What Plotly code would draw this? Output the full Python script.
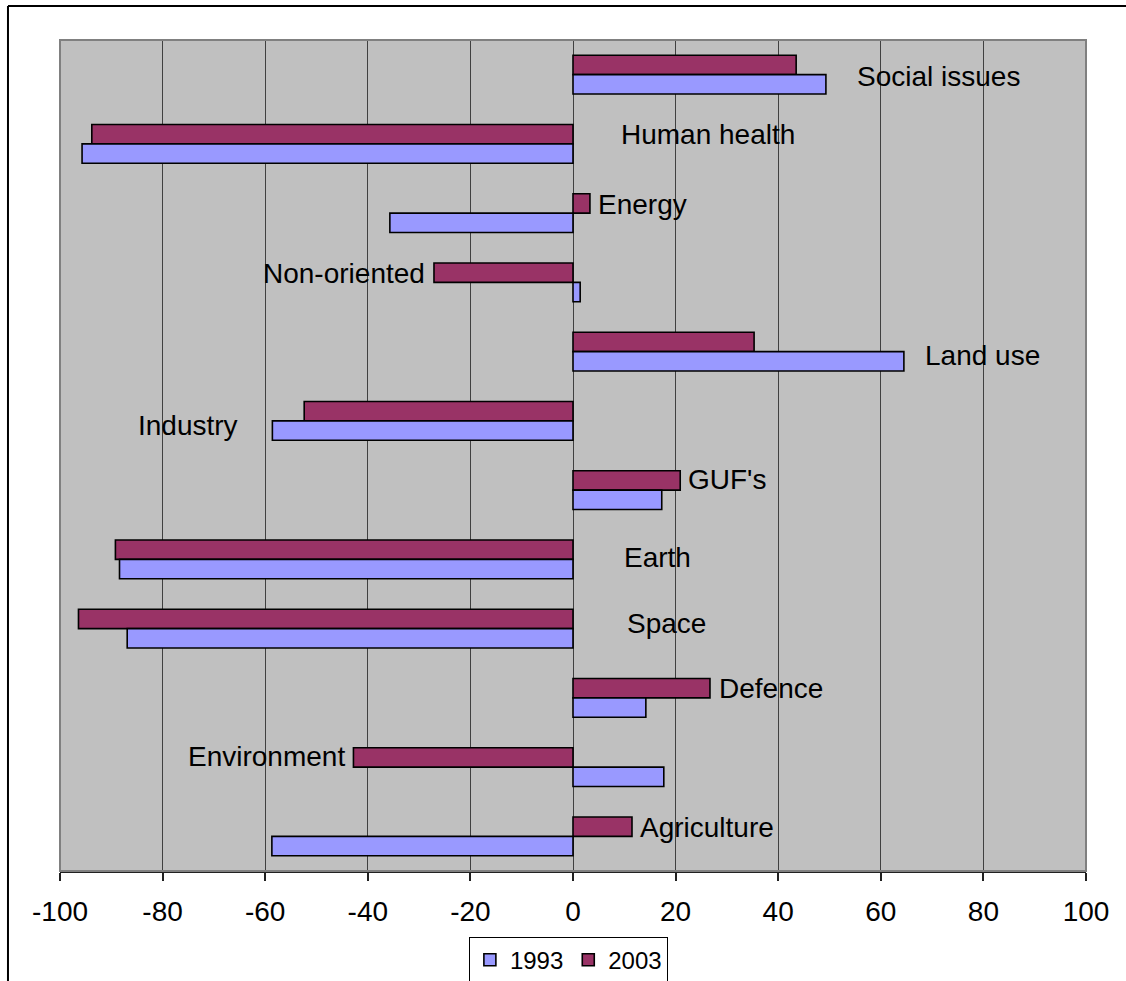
import plotly.graph_objects as go

# Research field categories, top to bottom
categories = ["Social issues", "Human health", "Energy", "Non-oriented", "Land use",
              "Industry", "GUF's", "Earth", "Space", "Defence", "Environment", "Agriculture"]

# Percentage change values per year
values_1993 = [49.3, -95.7, -35.7, 1.4, 64.5, -58.6, 17.3, -88.4, -86.9, 14.2, 17.7, -58.7]
values_2003 = [43.5, -93.8, 3.3, -27.1, 35.3, -52.4, 20.9, -89.2, -96.4, 26.7, -42.8, 11.5]

x_ticks = [-100, -80, -60, -40, -20, 0, 20, 40, 60, 80, 100]

# Where each category name sits (x in axis units, y offset from the category row)
label_x = [71.2, 26.3, 13.5, -44.6, 79.9, -75.0, 30.0, 16.4, 18.3, 38.6, -59.8, 26.1]
label_dy = [0.03, -0.14, -0.12, -0.13, 0.05, 0.06, -0.15, -0.02, -0.08, -0.14, -0.15, -0.13]

FONT = "Liberation Sans, Arial, sans-serif"
rows = list(range(len(categories)))

fig = go.Figure()
fig.add_trace(go.Bar(
    name="2003", y=rows, x=values_2003, orientation="h",
    marker=dict(color="#993366", line=dict(color="black", width=1.6)),
))
fig.add_trace(go.Bar(
    name="1993", y=rows, x=values_1993, orientation="h",
    marker=dict(color="#9999FF", line=dict(color="black", width=1.6)),
))

for i, name in enumerate(categories):
    fig.add_annotation(
        x=label_x[i], y=rows[i] + label_dy[i], xref="x", yref="y",
        text=name, showarrow=False, xanchor="center", yanchor="middle",
        font=dict(family=FONT, size=28, color="black"),
    )

# Gray frame of the plotting area
fig.add_shape(type="rect", xref="paper", yref="paper", x0=0, x1=1, y0=0, y1=1,
              line=dict(color="#808080", width=2), layer="above")
# Outer chart border (top and left edges)
fig.add_shape(type="line", xref="paper", yref="paper", x0=-0.0507, x1=1.06, y0=1.041, y1=1.041,
              line=dict(color="black", width=2))
fig.add_shape(type="line", xref="paper", yref="paper", x0=-0.0507, x1=-0.0507, y0=-0.14, y1=1.041,
              line=dict(color="black", width=2))

fig.update_layout(
    width=1126, height=981,
    margin=dict(l=60, r=40, t=40, b=110, autoexpand=False),
    paper_bgcolor="white", plot_bgcolor="#C0C0C0",
    barmode="group", bargap=0.44, bargroupgap=0,
    font=dict(family=FONT, size=28, color="black"),
    showlegend=True,
    legend=dict(
        orientation="h", x=0.4955, xanchor="center", y=-0.079, yanchor="top",
        traceorder="reversed", bgcolor="white", bordercolor="black", borderwidth=1,
        font=dict(family=FONT, size=24, color="black"),
    ),
    xaxis=dict(
        range=[-100, 100], tickvals=x_ticks, ticktext=[str(t) for t in x_ticks],
        showgrid=True, gridcolor="#404040", gridwidth=1, zeroline=False,
        showline=True, linecolor="#202020", linewidth=2,
        ticks="outside", ticklen=8, tickcolor="#202020", tickwidth=1.5,
        ticklabelstandoff=6,
        tickfont=dict(family=FONT, size=28, color="black"),
    ),
    yaxis=dict(
        range=[11.5, -0.5], showticklabels=False, showgrid=False, zeroline=False,
        ticks="", showline=False,
    ),
)

fig.write_html("out.html")
